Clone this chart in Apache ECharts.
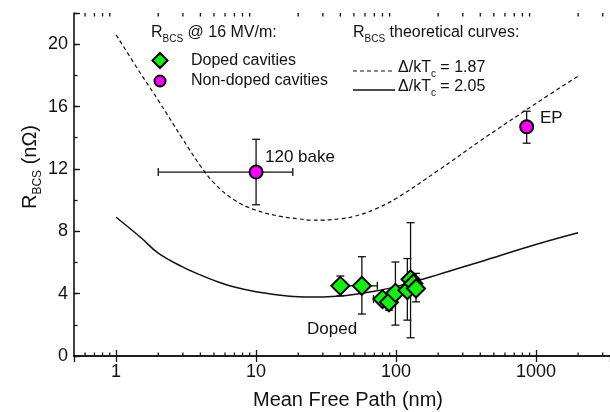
<!DOCTYPE html>
<html><head><meta charset="utf-8">
<script src="https://cdn.jsdelivr.net/npm/echarts@6/dist/echarts.min.js"></script>
<style>html,body{margin:0;padding:0;background:#fff}#c{width:610px;height:412px}</style>
</head><body><div id="c"></div>
<script>
// ---- data ----
const xTickLabels = ['1', '10', '100', '1000'];
const yTickLabels = ['0', '4', '8', '12', '16', '20'];
const curveX   = [1, 1.5, 2, 3, 4, 5, 7, 10, 15, 20, 25, 30, 40, 50, 70, 100, 200, 400, 1000, 2000];
const curve187 = [20.6, 18.1, 16.4, 13.9, 12.2, 11.1, 10.0, 9.35, 8.95, 8.8, 8.72, 8.72, 8.8, 8.95, 9.4, 10.1, 11.9, 13.8, 16.2, 17.95];
const curve205 = [8.9, 7.6, 6.6, 5.7, 5.2, 4.85, 4.42, 4.12, 3.9, 3.8, 3.78, 3.79, 3.85, 3.95, 4.15, 4.45, 5.22, 6.05, 7.15, 7.9];
const dopedX    = [40, 57, 80, 89, 99, 120.5, 127, 133, 139];
const dopedY    = [4.5, 4.5, 3.65, 3.45, 4.05, 4.22, 4.92, 4.65, 4.33];
const dopedYLo  = [3.86, 2.69, 3.35, 2.94, 1.98, 2.3, 1.17, 4.3, 3.47];
const dopedYHi  = [5.13, 6.37, 3.95, 3.96, 6.03, 6.25, 8.55, 5.0, 5.3];
const dopedXLo  = [40, 44, 69, 89, 99, 120.5, 127, 133, 139];
const dopedXHi  = [40, 73.5, 93, 89, 99, 120.5, 127, 133, 139];
const nonDopedX   = [10, 858];
const nonDopedY   = [11.8, 14.7];
const nonDopedYLo = [9.7, 13.65];
const nonDopedYHi = [13.9, 15.7];
const nonDopedXLo = [2, 858];
const nonDopedXHi = [18.3, 858];
const minorTickValues = [0.6, 0.7, 0.8, 0.9, 2, 3, 4, 5, 6, 7, 8, 9, 20, 30, 40, 50, 60, 70, 80, 90,
  200, 300, 400, 500, 600, 700, 800, 900, 2000, 3000];

const FONT = 'Liberation Sans, Arial, Helvetica, sans-serif';
const X_MIN = 0.5, X_MAX = 3380, Y_MIN = 0, Y_MAX = 22;
const GREEN = '#11f011', MAGENTA = '#ff00ff', INK = '#111';

function zipPairs(xs, ys) { return xs.map((x, i) => [x, ys[i]]); }
function errData(xs, ys, ylo, yhi, xlo, xhi) {
  return xs.map((x, i) => [x, ys[i], ylo[i], yhi[i], xlo[i], xhi[i]]);
}
function errRender(params, api) {
  const x = api.value(0), y = api.value(1);
  const ylo = api.value(2), yhi = api.value(3), xlo = api.value(4), xhi = api.value(5);
  const c = api.coord([x, y]);
  const cap = 4;
  const st = { stroke: INK, lineWidth: 1.3, fill: null };
  const ch = [];
  if (yhi !== ylo) {
    const pT = api.coord([x, yhi]), pB = api.coord([x, ylo]);
    ch.push({ type: 'line', shape: { x1: c[0], y1: pT[1], x2: c[0], y2: pB[1] }, style: st });
    ch.push({ type: 'line', shape: { x1: c[0] - cap, y1: pT[1], x2: c[0] + cap, y2: pT[1] }, style: st });
    ch.push({ type: 'line', shape: { x1: c[0] - cap, y1: pB[1], x2: c[0] + cap, y2: pB[1] }, style: st });
  }
  if (xhi !== xlo) {
    const pL = api.coord([xlo, y]), pR = api.coord([xhi, y]);
    ch.push({ type: 'line', shape: { x1: pL[0], y1: c[1], x2: pR[0], y2: c[1] }, style: st });
    ch.push({ type: 'line', shape: { x1: pL[0], y1: c[1] - cap, x2: pL[0], y2: c[1] + cap }, style: st });
    ch.push({ type: 'line', shape: { x1: pR[0], y1: c[1] - cap, x2: pR[0], y2: c[1] + cap }, style: st });
  }
  return { type: 'group', children: ch };
}
function minorTickRender(params, api) {
  const v = api.value(0);
  const b = api.coord([v, Y_MIN]), t = api.coord([v, Y_MAX]);
  const st = { stroke: INK, lineWidth: 1.3 };
  return { type: 'group', children: [
    { type: 'line', shape: { x1: b[0], y1: b[1], x2: b[0], y2: b[1] - 3.5 }, style: st },
    { type: 'line', shape: { x1: t[0], y1: t[1], x2: t[0], y2: t[1] + 3.5 }, style: st }
  ] };
}

const chart = echarts.init(document.getElementById('c'), null, { renderer: 'canvas' });
const axisLineStyle = { color: INK, width: 1.6 };
const baseX = {
  type: 'log', logBase: 10, min: X_MIN, max: X_MAX,
  axisLine: { show: true, lineStyle: axisLineStyle },
  axisTick: { show: true, inside: true, length: 6, lineStyle: { color: INK, width: 1.3 } },
  splitLine: { show: false }
};
const richSub = (main, sub, lh) => ({
  a: { fontSize: main, fontFamily: FONT, lineHeight: lh, fill: INK },
  b: { fontSize: Math.round(main * 0.62), fontFamily: FONT, lineHeight: Math.round(main * 0.62), verticalAlign: 'bottom', fill: INK }
});
const option = {
  animation: false,
  backgroundColor: '#fff',
  textStyle: { fontFamily: FONT },
  grid: { left: 74, top: 13, right: 0, bottom: 56, containLabel: false },
  xAxis: [
    Object.assign({}, baseX, {
      position: 'bottom',
      axisLabel: {
        show: true, fontSize: 18, color: INK, fontFamily: FONT, margin: 7,
        showMinLabel: false, showMaxLabel: false,
        formatter: v => { const s = String(Math.round(v)); return xTickLabels.indexOf(s) >= 0 && Math.abs(v - Math.round(v)) < 1e-6 ? s : ''; }
      }
    }),
    Object.assign({}, baseX, { position: 'top', axisLabel: { show: false } })
  ],
  yAxis: [
    {
      type: 'value', min: Y_MIN, max: Y_MAX, interval: 4, position: 'left',
      axisLine: { show: true, lineStyle: axisLineStyle },
      axisTick: { show: true, inside: true, length: 6, lineStyle: { color: INK, width: 1.3 } },
      axisLabel: {
        show: true, fontSize: 18, color: INK, fontFamily: FONT, margin: 6,
        formatter: v => { const s = String(v); return yTickLabels.indexOf(s) >= 0 ? s : ''; }
      },
      splitLine: { show: false }
    },
    {
      type: 'value', min: Y_MIN, max: Y_MAX, interval: 2, position: 'left', offset: 0,
      axisLine: { show: false },
      axisTick: { show: true, inside: true, length: 3.5, lineStyle: { color: INK, width: 1.3 } },
      axisLabel: { show: false }, splitLine: { show: false }
    }
  ],
  series: [
    {
      type: 'custom', name: 'minorTicks', xAxisIndex: 0, yAxisIndex: 0, silent: true, clip: false,
      data: minorTickValues.map(v => [v, 0]), encode: { x: 0, y: 1 }, renderItem: minorTickRender, z: 5
    },
    {
      type: 'line', name: 'Δ/kTc = 1.87', data: zipPairs(curveX, curve187), smooth: 0.4,
      symbol: 'none', lineStyle: { color: INK, width: 1.2, type: [4, 3] }, z: 2
    },
    {
      type: 'line', name: 'Δ/kTc = 2.05', data: zipPairs(curveX, curve205), smooth: 0.4,
      symbol: 'none', lineStyle: { color: INK, width: 1.5 }, z: 2
    },
    {
      type: 'custom', name: 'errNon', renderItem: errRender, z: 3,
      dimensions: ['x', 'y', 'ylo', 'yhi', 'xlo', 'xhi'], encode: { x: 0, y: 1 },
      data: errData(nonDopedX, nonDopedY, nonDopedYLo, nonDopedYHi, nonDopedXLo, nonDopedXHi)
    },
    {
      type: 'custom', name: 'errDoped', renderItem: errRender, z: 3,
      dimensions: ['x', 'y', 'ylo', 'yhi', 'xlo', 'xhi'], encode: { x: 0, y: 1 },
      data: errData(dopedX, dopedY, dopedYLo, dopedYHi, dopedXLo, dopedXHi)
    },
    {
      type: 'scatter', name: 'Doped cavities', data: zipPairs(dopedX, dopedY), z: 4,
      symbol: 'diamond', symbolSize: [18, 18],
      itemStyle: { color: GREEN, borderColor: '#000', borderWidth: 2, opacity: 1 }
    },
    {
      type: 'scatter', name: 'Non-doped cavities', data: zipPairs(nonDopedX, nonDopedY), z: 4,
      symbol: 'circle', symbolSize: 13,
      itemStyle: { color: MAGENTA, borderColor: '#000', borderWidth: 2, opacity: 1 }
    }
  ],
  graphic: [
    // legend left
    { type: 'text', left: 151, top: 25, style: { text: '{a|R}{b|BCS}{a| @ 16 MV/m:}', fill: INK, rich: richSub(16, 10, 22) } },
    { type: 'polygon', shape: { points: [[160, 53], [167.5, 60.5], [160, 68], [152.5, 60.5]] },
      style: { fill: GREEN, stroke: '#000', lineWidth: 2 } },
    { type: 'text', x: 191, y: 61, style: { text: 'Doped cavities', font: '16px ' + FONT, fill: INK, verticalAlign: 'middle' } },
    { type: 'circle', shape: { cx: 160, cy: 81, r: 5.5 }, style: { fill: MAGENTA, stroke: '#000', lineWidth: 2 } },
    { type: 'text', x: 191, y: 81, style: { text: 'Non-doped cavities', font: '16px ' + FONT, fill: INK, verticalAlign: 'middle' } },
    // legend right
    { type: 'text', left: 353, top: 25, style: { text: '{a|R}{b|BCS}{a| theoretical curves:}', fill: INK, rich: richSub(16, 10, 22) } },
    { type: 'line', shape: { x1: 353, y1: 71, x2: 395, y2: 71 }, style: { stroke: INK, lineWidth: 1.2, lineDash: [4, 3] } },
    { type: 'text', left: 398, top: 60, style: { text: '{a|Δ/kT}{b|c}{a| = 1.87}', fill: INK, rich: richSub(16, 10, 22) } },
    { type: 'line', shape: { x1: 353, y1: 90, x2: 395, y2: 90 }, style: { stroke: INK, lineWidth: 1.5 } },
    { type: 'text', left: 398, top: 79, style: { text: '{a|Δ/kT}{b|c}{a| = 2.05}', fill: INK, rich: richSub(16, 10, 22) } },
    // annotations
    { type: 'text', x: 265, y: 157, style: { text: '120 bake', font: '17px ' + FONT, fill: INK, verticalAlign: 'middle' } },
    { type: 'text', x: 540, y: 118, style: { text: 'EP', font: '17px ' + FONT, fill: INK, verticalAlign: 'middle' } },
    { type: 'text', x: 307, y: 329, style: { text: 'Doped', font: '17px ' + FONT, fill: INK, verticalAlign: 'middle' } },
    // axis titles
    { type: 'text', x: 348, y: 400, style: { text: 'Mean Free Path (nm)', font: '20px ' + FONT, fill: INK, align: 'center', verticalAlign: 'middle' } },
    { type: 'text', x: 30, y: 167, rotation: Math.PI / 2, style: { text: '{a|R}{b|BCS}{a| (nΩ)}', fill: INK, align: 'center', verticalAlign: 'middle', rich: richSub(20, 12, 28) } }
  ]
};
chart.setOption(option);
</script>
</body></html>
